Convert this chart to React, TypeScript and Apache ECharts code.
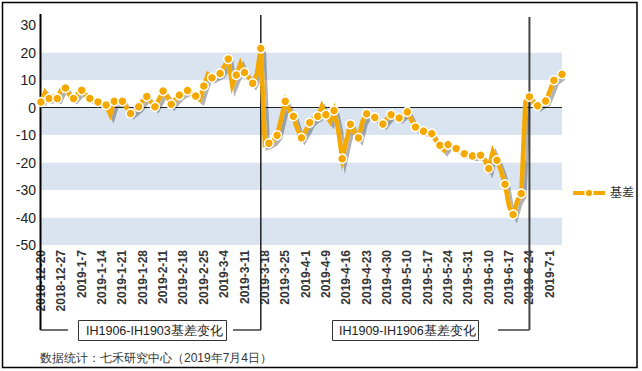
import React, { useEffect, useRef } from 'react';
import * as echarts from 'echarts';

const seriesName = '基差';

const categories = [
  '2018-12-20','2018-12-21','2018-12-24','2018-12-25','2018-12-26','2018-12-27','2018-12-28',
  '2019-1-2','2019-1-3','2019-1-4','2019-1-7','2019-1-8','2019-1-9','2019-1-10','2019-1-11','2019-1-14','2019-1-15','2019-1-16','2019-1-17','2019-1-18','2019-1-21','2019-1-22','2019-1-23','2019-1-24','2019-1-25','2019-1-28','2019-1-29','2019-1-30','2019-1-31',
  '2019-2-1','2019-2-11','2019-2-12','2019-2-13','2019-2-14','2019-2-15','2019-2-18','2019-2-19','2019-2-20','2019-2-21','2019-2-22','2019-2-25','2019-2-26','2019-2-27','2019-2-28',
  '2019-3-1','2019-3-4','2019-3-5','2019-3-6','2019-3-7','2019-3-8','2019-3-11','2019-3-12','2019-3-13','2019-3-14','2019-3-15','2019-3-18','2019-3-19','2019-3-20','2019-3-21','2019-3-22','2019-3-25','2019-3-26','2019-3-27','2019-3-28','2019-3-29',
  '2019-4-1','2019-4-2','2019-4-3','2019-4-4','2019-4-8','2019-4-9','2019-4-10','2019-4-11','2019-4-12','2019-4-15','2019-4-16','2019-4-17','2019-4-18','2019-4-19','2019-4-22','2019-4-23','2019-4-24','2019-4-25','2019-4-26','2019-4-29','2019-4-30',
  '2019-5-6','2019-5-7','2019-5-8','2019-5-9','2019-5-10','2019-5-13','2019-5-14','2019-5-15','2019-5-16','2019-5-17','2019-5-20','2019-5-21','2019-5-22','2019-5-23','2019-5-24','2019-5-27','2019-5-28','2019-5-29','2019-5-30','2019-5-31',
  '2019-6-3','2019-6-4','2019-6-5','2019-6-6','2019-6-10','2019-6-11','2019-6-12','2019-6-13','2019-6-14','2019-6-17','2019-6-18','2019-6-19','2019-6-20','2019-6-21','2019-6-24','2019-6-25','2019-6-26','2019-6-27','2019-6-28',
  '2019-7-1','2019-7-2','2019-7-3','2019-7-4'
];

const basisValues = [
  2.0, 5.5, 3.3, 4.0, 3.3, 6.5, 7.1, 4.5, 3.3, 5.0,
  6.3, 4.5, 3.3, 2.5, 2.0, 1.5, 0.9, -2.5, 2.3, 2.0,
  2.3, 0.0, -2.2, -1.0, 0.3, 2.5, 4.0, 2.0, 0.3, 3.0,
  6.0, 4.0, 1.2, 3.0, 4.5, 5.5, 6.2, 5.0, 4.2, 3.0,
  7.8, 12.0, 10.8, 11.5, 12.4, 15.0, 17.6, 8.0, 11.8, 16.0,
  12.7, 11.0, 8.8, 12.0, 21.5, -13.5, -13.0, -12.0, -10.1, -4.0,
  2.3, -1.0, -3.2, -8.0, -11.0, -8.5, -5.5, -4.0, -3.2, 0.5,
  -2.6, -5.0, -1.1, -8.0, -18.6, -12.0, -6.1, -9.0, -11.0, -5.0,
  -2.3, -3.0, -3.6, -5.0, -6.0, -4.0, -2.6, -3.0, -3.8, -2.5,
  -1.6, -4.5, -7.1, -8.0, -8.6, -9.0, -9.5, -12.0, -13.7, -15.5,
  -13.5, -14.0, -14.9, -16.0, -16.8, -17.0, -17.6, -17.5, -17.4, -19.0,
  -22.2, -16.0, -19.2, -23.0, -27.9, -36.0, -38.9, -34.0, -31.3, 2.0,
  3.9, 2.0, 0.6, 1.5, 2.4, 6.0, 9.9, 11.0, 12.1
];

const yMin = -50;
const yMax = 30;
const yStep = 10;

const switchDates = ['2019-3-15', '2019-6-24'];
const boxLabels = ['IH1906-IH1903基差变化', 'IH1909-IH1906基差变化'];
const sourceNote = '数据统计：七禾研究中心（2019年7月4日）';

const ORANGE = '#f5a900';
const FONT = '"Liberation Sans", Arial, "Noto Sans CJK SC", sans-serif';

export default function App() {
  const ref = useRef<HTMLDivElement>(null);

  useEffect(() => {
    if (!ref.current) return;
    const chart = echarts.init(ref.current, null, { renderer: 'svg' });
    const option: any = {
      animation: false,
      backgroundColor: '#fff',
      textStyle: { fontFamily: FONT },
      grid: { left: 41, right: 80, top: 25, bottom: 126, containLabel: false },
      legend: {
        data: [seriesName],
        left: 566,
        top: 182,
        itemWidth: 32,
        itemHeight: 10,
        itemGap: 4,
        lineStyle: { width: 4, color: ORANGE },
        itemStyle: { color: ORANGE, borderColor: '#fff', borderWidth: 1.5 },
        textStyle: { fontSize: 12, color: '#333', fontFamily: FONT },
      },
      xAxis: {
        type: 'category',
        data: categories,
        boundaryGap: false,
        axisLine: { show: false },
        axisTick: { show: false },
        splitLine: { show: false },
        axisLabel: {
          interval: 4,
          rotate: 90,
          margin: 5,
          fontSize: 12,
          fontWeight: 'bold',
          color: '#333',
          fontFamily: FONT,
        },
      },
      yAxis: {
        type: 'value',
        min: yMin,
        max: yMax,
        interval: yStep,
        axisLine: { show: false },
        axisTick: { show: false },
        splitLine: { show: false },
        splitArea: { show: true, areaStyle: { color: ['#d9e4f0', '#ffffff'] } },
        axisLabel: { fontSize: 14, color: '#222', margin: 5, fontFamily: FONT },
      },
      series: [
        {
          name: seriesName,
          type: 'line',
          data: basisValues,
          showAllSymbol: true,
          symbol: 'circle',
          symbolSize: (_v: any, p: any) => (p.dataIndex % 2 === 0 ? 9 : 0),
          itemStyle: { color: ORANGE, borderColor: '#fff', borderWidth: 1.5 },
          lineStyle: {
            color: ORANGE,
            width: 4.5,
            join: 'miter',
            miterLimit: 6,
            shadowColor: 'rgba(0,0,0,0.3)',
            shadowBlur: 1,
            shadowOffsetX: 3,
            shadowOffsetY: 3,
          },
          z: 3,
          markLine: {
            silent: true,
            symbol: 'none',
            label: { show: false },
            lineStyle: { color: '#222', width: 1, type: 'solid' },
            data: [{ yAxis: 0 }],
            z: 2,
          },
        },
      ],
    };
    chart.setOption(option);

    const x0 = chart.convertToPixel({ xAxisIndex: 0 }, categories[0]) as number;
    const x1 = chart.convertToPixel({ xAxisIndex: 0 }, switchDates[0]) as number;
    const x2 = chart.convertToPixel({ xAxisIndex: 0 }, switchDates[1]) as number;
    const yb = 330;

    const line = (xa: number, ya: number, xb: number, yb2: number, w: number, c: string) => ({
      type: 'line',
      z: 1,
      shape: { x1: xa, y1: ya, x2: xb, y2: yb2 },
      style: { stroke: c, lineWidth: w },
      silent: true,
    });

    chart.setOption({
      graphic: [
        {
          type: 'rect',
          z: 0,
          shape: { x: 2.5, y: 2.5, width: 634.5, height: 365 },
          style: { fill: 'none', stroke: '#000', lineWidth: 1.5 },
          silent: true,
        },
        line(x0 - 0.5, 14, x0 - 0.5, yb, 2, '#000'),
        line(x0 - 0.5, yb, 68, yb, 1.2, '#111'),
        {
          type: 'rect',
          z: 1,
          shape: { x: 78.5, y: 320.5, width: 148, height: 20 },
          style: { fill: '#fff', stroke: '#333', lineWidth: 1 },
          silent: true,
        },
        {
          type: 'text',
          z: 2,
          x: 86,
          y: 331,
          style: { text: boxLabels[0], fontSize: 12.5, fill: '#222', font: `12.5px ${FONT}`, verticalAlign: 'middle' },
          silent: true,
        },
        line(233, yb, x1, yb, 1.2, '#111'),
        line(x1, 15, x1, yb, 1.5, '#222'),
        {
          type: 'rect',
          z: 1,
          shape: { x: 332.5, y: 320.5, width: 146, height: 20 },
          style: { fill: '#fff', stroke: '#333', lineWidth: 1 },
          silent: true,
        },
        {
          type: 'text',
          z: 2,
          x: 339,
          y: 331,
          style: { text: boxLabels[1], fontSize: 12.5, fill: '#222', font: `12.5px ${FONT}`, verticalAlign: 'middle' },
          silent: true,
        },
        line(498, yb, x2, yb, 1.2, '#111'),
        line(x2, 17, x2, yb, 2, '#444'),
        {
          type: 'text',
          z: 2,
          x: 40,
          y: 358,
          style: { text: sourceNote, fontSize: 12, fill: '#333', font: `12px ${FONT}`, verticalAlign: 'middle' },
          silent: true,
        },
      ],
    });

    return () => chart.dispose();
  }, []);

  return (
    <div
      ref={ref}
      style={{ position: 'fixed', left: 0, top: 0, width: 642, height: 371, background: '#fff' }}
    />
  );
}
